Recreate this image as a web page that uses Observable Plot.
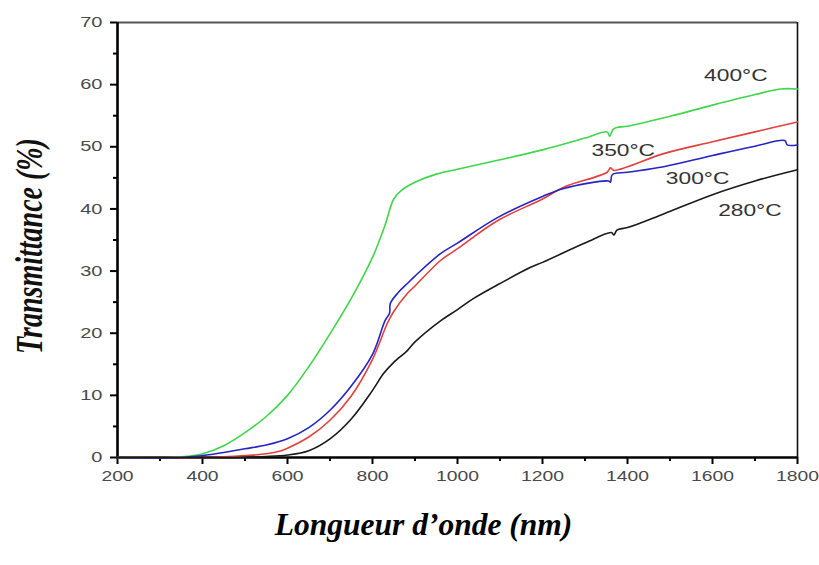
<!DOCTYPE html>
<html><head><meta charset="utf-8">
<script src="https://cdn.jsdelivr.net/npm/d3@7"></script>
<script src="https://cdn.jsdelivr.net/npm/@observablehq/plot@0.6"></script>
<style>body{margin:0;background:#fff}</style>
</head><body>
<div id="chart"></div>
<script>
// ---- data ----
const xTicks = [200, 400, 600, 800, 1000, 1200, 1400, 1600, 1800];
const xMinor = [300, 500, 700, 900, 1100, 1300, 1500, 1700];
const yTicks = [0, 10, 20, 30, 40, 50, 60, 70];
const yMinor = [5, 15, 25, 35, 45, 55, 65];

const wl400 = [200,300,350,400,450,500,550,600,650,700,750,800,830,850,870,900,950,1000,1100,1200,1300,1352,1358,1366,1375,1400,1500,1600,1700,1760,1800];
const t400  = [0,0,0.1,0.6,1.9,4.0,6.6,10.0,14.6,19.9,25.6,32.2,37.5,41.6,43.1,44.3,45.6,46.4,47.9,49.5,51.4,52.4,51.7,52.8,53.1,53.3,54.9,56.7,58.4,59.3,59.3];

const wl350 = [200,400,450,500,550,585,600,650,700,750,800,835,850,882,900,960,1000,1094,1200,1250,1352,1360,1368,1485,1600,1700,1800];
const t350  = [0,0,0.1,0.3,0.6,1.1,1.5,3.3,6.0,9.9,15.8,21.6,23.5,26.4,27.6,31.7,33.6,38.1,41.6,43.5,45.9,46.6,46.2,48.9,50.8,52.4,54.0];

const wl300 = [200,350,400,450,500,550,600,650,700,750,800,830,840,842,860,882,900,960,1000,1094,1200,1250,1355,1360,1364,1400,1485,1600,1700,1770,1776,1800];
const t300  = [0,0,0.3,0.8,1.4,2.0,3.0,4.8,7.6,11.5,16.6,22.1,23.2,24.8,26.5,28.0,29.2,32.8,34.5,38.6,42.0,43.3,44.5,44.3,45.5,45.9,46.8,48.6,50.1,51.0,50.3,50.3];

const wl280 = [200,450,500,550,600,650,700,750,800,826,850,882,900,960,1000,1038,1100,1172,1200,1300,1362,1368,1375,1400,1485,1600,1700,1800];
const t280  = [0,0,0.05,0.15,0.4,1.1,3.0,6.2,10.8,13.5,15.3,17.2,18.6,22.0,23.8,25.6,28.0,30.6,31.4,34.5,36.2,35.8,36.6,37.0,39.2,42.3,44.5,46.3];

const seriesNames  = ["400°C", "350°C", "300°C", "280°C"];
const seriesColors = ["#3fd64a", "#e2403c", "#2424c4", "#1a1a1a"];
const labelX = [1655, 1390, 1565, 1688];
const labelY = [61.5, 49.4, 44.9, 39.7];

const xLabel = "Longueur d’onde (nm)";
const yLabel = "Transmittance (%)";

// ---- build tables ----
const waves = [wl400, wl350, wl300, wl280];
const trans = [t400, t350, t300, t280];
const rows = [];
seriesNames.forEach((s, i) => waves[i].forEach((w, j) => rows.push({series: s, wl: w, T: trans[i][j]})));
const labels = seriesNames.map((s, i) => ({series: s, x: labelX[i], y: labelY[i]}));

const colorOf = Object.fromEntries(seriesNames.map((s, i) => [s, seriesColors[i]]));

const svg = Plot.plot({
  width: 819, height: 565,
  marginLeft: 117, marginRight: 22, marginTop: 22, marginBottom: 108,
  style: {fontFamily: "'Liberation Sans', Arial, sans-serif", fontSize: "14px", background: "#fff", color: "#000"},
  x: {domain: [200, 1800]},
  y: {domain: [0, 70]},
  marks: [
    Plot.ruleY([70], {stroke: "#555", strokeWidth: 2.2}),
    Plot.ruleX([1800], {stroke: "#111", strokeWidth: 1.6}),
    Plot.axisX(xTicks, {tickSize: 7, tickPadding: 7, tickFormat: d => String(d), label: null, stroke: "#000", strokeWidth: 2, fill: "#4a4a4a", fontSize: 14}),
    Plot.axisX(xMinor, {tickSize: 4, tickFormat: () => "", label: null, stroke: "#000", strokeWidth: 2}),
    Plot.axisY(yTicks, {tickSize: 7, tickPadding: 8, tickFormat: d => String(d), label: null, stroke: "#000", strokeWidth: 2, fill: "#4a4a4a", fontSize: 14.5}),
    Plot.axisY(yMinor, {tickSize: 4, tickFormat: () => "", label: null, stroke: "#000", strokeWidth: 2}),
    Plot.ruleY([0], {stroke: "#000", strokeWidth: 2.6}),
    Plot.ruleX([200], {stroke: "#000", strokeWidth: 2.6}),
    Plot.line(rows, {x: "wl", y: "T", z: "series", stroke: d => colorOf[d.series], strokeWidth: 1.6, curve: "catmull-rom"}),
    Plot.text(labels, {x: "x", y: "y", text: "series", fill: "#333", fontSize: 16.5, className: "curve-label"}),
    Plot.text([xLabel], {frameAnchor: "bottom", dx: -34, dy: 77, textAnchor: "middle", fontFamily: "'Liberation Serif', 'Times New Roman', serif", fontWeight: "bold", fontStyle: "italic", fontSize: 31.5, fill: "#000"}),
    Plot.text([yLabel], {frameAnchor: "left", textAnchor: "middle", dx: -88, dy: 6, rotate: -90, fontFamily: "'Liberation Serif', 'Times New Roman', serif", fontWeight: "bold", fontStyle: "italic", fontSize: 28, fill: "#111", className: "y-label"})
  ]
});
document.getElementById("chart").appendChild(svg);

// the reference chart image is stretched horizontally: stretch its small texts alike
const stretch = 1.38;
d3.select(svg).selectAll('g[aria-label="x-axis tick label"] text, g[aria-label="y-axis tick label"] text, g.curve-label text').each(function() {
  const t = this.getAttribute("transform");
  if (t) this.setAttribute("transform", t + ` scale(${stretch},1)`);
});
d3.select(svg).selectAll('g.y-label text').each(function() {
  const t = this.getAttribute("transform");
  if (t) this.setAttribute("transform", t.replace("rotate(", `scale(${stretch},1) rotate(`));
});
</script>
</body></html>
